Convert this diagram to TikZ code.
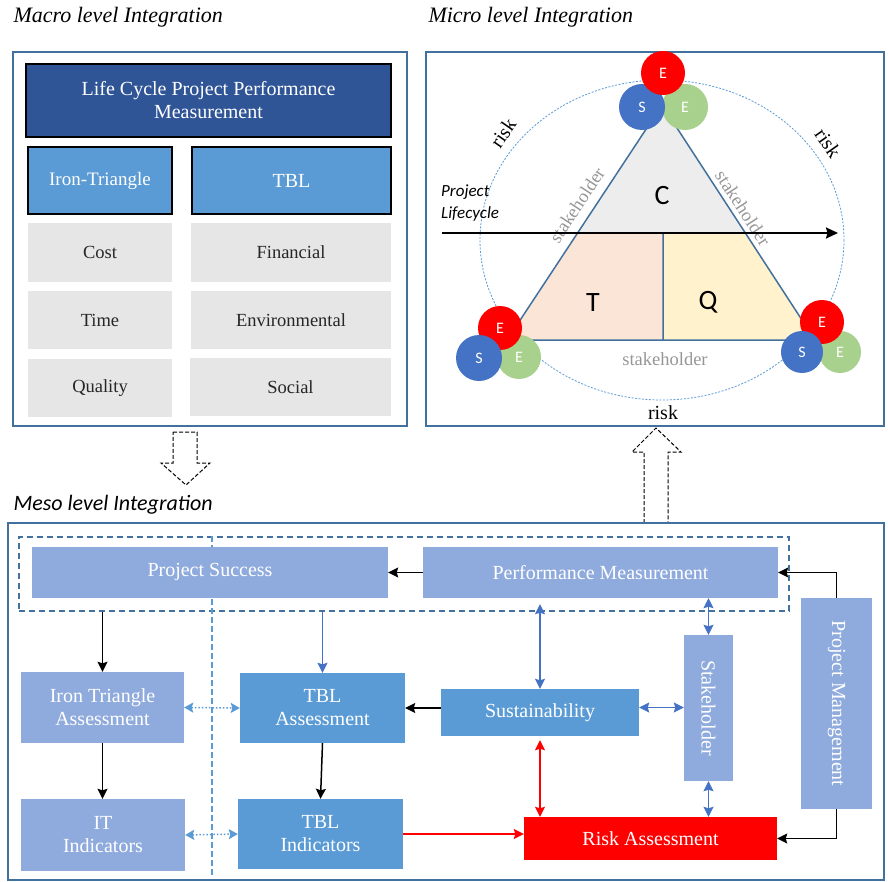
\documentclass[tikz,border=0pt]{standalone}
\usepackage{fontspec}
\usepackage{graphicx}
\setmainfont{Liberation Serif}
\newfontfamily\calibri{Carlito}
\usetikzlibrary{arrows.meta,positioning,calc}

\definecolor{frameblue}{RGB}{65,113,156}
\definecolor{darkblue}{RGB}{47,85,151}
\definecolor{midblue}{RGB}{91,155,213}
\definecolor{lightblue}{RGB}{143,170,220}
\definecolor{arrowblue}{RGB}{68,114,196}
\definecolor{grayfill}{RGB}{230,230,230}
\definecolor{cfill}{RGB}{237,237,237}
\definecolor{tfill}{RGB}{251,229,214}
\definecolor{qfill}{RGB}{255,242,204}
\definecolor{greencirc}{RGB}{169,209,142}
\definecolor{labelgray}{RGB}{150,150,150}

\begin{document}
\begin{tikzpicture}[x=1pt,y=-1pt,
   box/.style={inner sep=0pt, align=center, text=white, font=\fontsize{20}{23}\selectfont},
   lbox/.style={box, fill=lightblue},
   mbox/.style={box, fill=midblue},
   gbox/.style={box, fill=grayfill, text=black!85, font=\fontsize{18.5}{22}\selectfont},
   hbox/.style={box, draw=black, line width=1.5pt},
   panel/.style={draw=frameblue, line width=1.5pt, inner sep=0pt},
   title/.style={anchor=west, font=\fontsize{22}{26}\selectfont\itshape},
   tip/.style={Stealth[length=10pt,width=10pt,inset=1.5pt]},
   arr/.style={-{Stealth[length=10pt,width=10pt,inset=1.5pt]}, line width=1.5pt},
   barr/.style={{Stealth[length=10pt,width=10pt,inset=1.5pt]}-{Stealth[length=10pt,width=10pt,inset=1.5pt]}, line width=1.6pt, draw=arrowblue},
   darr/.style={{Stealth[length=9pt,width=10pt,inset=1.5pt]}-{Stealth[length=9pt,width=10pt,inset=1.5pt]}, line width=1.5pt, draw=midblue, dotted},
   blockarr/.style={draw=black, line width=1pt, dash pattern=on 4pt off 2pt},
   stk/.style={text=labelgray, font=\fontsize{18.5}{22}\selectfont},
   rsk/.style={font=\fontsize{20}{24}\selectfont},
   eco/.style={circle, minimum size=46pt, inner sep=0pt, text=white, font=\calibri\fontsize{16}{18}\selectfont}]

   \useasboundingbox (0,0) rectangle (888,882);

   % macro level
   \node[title] (macrotitle) at (10,17) {Macro level Integration};
   \node[panel, minimum width=394pt, minimum height=374pt] (macro) at (210,239) {};
   \node[hbox, fill=darkblue, minimum width=365pt, minimum height=73pt] (lcpm) at (208.5,100.5) {Life Cycle Project Performance\\Measurement};
   \node[hbox, fill=midblue, minimum width=144pt, minimum height=67pt, font=\fontsize{19}{22}\selectfont] (iron) at (100,180.5) {Iron-Triangle};
   \node[hbox, fill=midblue, minimum width=199pt, minimum height=67pt] (tbl) at (291.5,180.5) {TBL};
   \node[gbox, minimum width=144pt, minimum height=59pt] (cost) at (100,252.5) {Cost};
   \node[gbox, minimum width=200pt, minimum height=59pt] (financial) at (291,252.5) {Financial};
   \node[gbox, minimum width=144pt, minimum height=58pt] (time) at (100,320) {Time};
   \node[gbox, minimum width=200pt, minimum height=58pt] (environmental) at (291,320) {Environmental};
   \node[gbox, minimum width=144pt, minimum height=58pt] (quality) at (100,388) {Quality};
   \node[gbox, minimum width=201pt, minimum height=58pt] (social) at (290.5,387) {Social};

   % micro level
   \node[title] (microtitle) at (425,17) {Micro level Integration};
   \node[panel, minimum width=458pt, minimum height=374pt] (micro) at (655,239) {};
   \draw[midblue, line width=0.8pt, dash pattern=on 2pt off 1.5pt] (662,240) ellipse [x radius=182, y radius=160];
   \coordinate (apex) at (662,105);
   \coordinate (bl) at (507,340);
   \coordinate (br) at (815,340);
   \coordinate (ml) at ($(apex)!0.5447!(bl)$);
   \coordinate (mr) at ($(apex)!0.5447!(br)$);
   \coordinate (mt) at (663,233);
   \coordinate (mb) at (663,340);
   \fill[cfill] (apex) -- (ml) -- (mr) -- cycle;
   \fill[tfill] (ml) -- (mt) -- (mb) -- (bl) -- cycle;
   \fill[qfill] (mt) -- (mr) -- (br) -- (mb) -- cycle;
   \draw[frameblue, line width=1.5pt] (apex) -- (bl) -- (br) -- cycle (mt) -- (mb);
   \node[stk, rotate=56.5] (stkleft) at (577,205) {stakeholder};
   \node[stk, rotate=-57] (stkright) at (743,208) {stakeholder};
   \node[stk] (stkbottom) at (665,359) {stakeholder};
   \node[rsk, rotate=55] (riskleft) at (503,133) {risk};
   \node[rsk, rotate=-55] (riskright) at (828,143) {risk};
   \node[rsk] (riskbottom) at (663,413) {risk};
   \coordinate (lcstart) at (442,233);
   \coordinate (lcend) at (838,233);
   \draw[-{Stealth[length=12pt,width=11pt,inset=1.5pt]}, line width=2pt] (lcstart) -- (lcend);
   \node[anchor=north west, align=left, inner sep=0pt, font=\calibri\itshape\fontsize{17}{22}\selectfont] (lifecycle) at (441,185) {Project\\Lifecycle};
   \node[font=\calibri\fontsize{28}{30}\selectfont] (cc) at (662,196) {C};
   \node[font=\calibri\fontsize{28}{30}\selectfont] (tt) at (593,303) {T};
   \node[font=\calibri\fontsize{28}{30}\selectfont] (qq) at (708,302) {Q};

   \node[eco, fill=greencirc] (etop) at (685,107) {E};
   \node[eco, fill=arrowblue] (stop) at (642,107) {S};
   \node[eco, fill=red, minimum size=44pt] (ftop) at (663,73) {E};
   \node[eco, fill=greencirc, minimum size=44pt] (eleft) at (519,357) {E};
   \node[eco, fill=red, minimum size=44pt] (fleft) at (500,328) {E};
   \node[eco, fill=arrowblue] (sleft) at (479,358) {S};
   \node[eco, fill=greencirc, minimum size=42pt] (eright) at (840,352) {E};
   \node[eco, fill=red, minimum size=44pt] (fright) at (822,322) {E};
   \node[eco, fill=arrowblue, minimum size=42pt] (sright) at (802,352) {S};

   % block arrows between the levels
   \draw[blockarr] (173,432) -- (197,432) -- (197,463) -- (210,463) -- (186,485) -- (161,463) -- (173,463) -- cycle;
   \draw[blockarr] (644,523) -- (644,452) -- (632,452) -- (656,428) -- (681,452) -- (668,452) -- (668,523);

   % meso level
   \node[anchor=west, font=\calibri\itshape\fontsize{22}{26}\selectfont] (mesotitle) at (10,505) {Meso level Integration};
   \node[panel, minimum width=876pt, minimum height=357pt] (meso) at (446,701.5) {};
   \node[draw=frameblue, line width=1.5pt, dash pattern=on 6pt off 4pt, minimum width=770pt, minimum height=74pt] (psgroup) at (404,574) {};
   \draw[midblue, line width=1.5pt, dash pattern=on 6pt off 3pt] (psgroup.north -| 212,0) -- (212,878);

   \node[lbox, minimum width=356pt, minimum height=51pt] (success) at (210,572.5) {Project Success};
   \node[lbox, minimum width=355pt, minimum height=51pt] (perf) at (600.5,572.5) {Performance Measurement};
   \node[lbox, minimum width=163pt, minimum height=71pt] (ita) at (102.5,707.5) {Iron Triangle\\Assessment};
   \node[mbox, minimum width=165pt, minimum height=70pt] (tbla) at (322.5,708) {TBL\\Assessment};
   \node[lbox, minimum width=164pt, minimum height=72pt] (itind) at (103,835) {IT\\Indicators};
   \node[mbox, minimum width=165pt, minimum height=70pt] (tblind) at (320.5,834) {TBL\\Indicators};
   \node[mbox, minimum width=198pt, minimum height=47pt] (sust) at (540,712.5) {Sustainability};
   \node[lbox, minimum width=49pt, minimum height=146pt] (stake) at (708.5,708) {\rotatebox{-90}{Stakeholder}};
   \node[lbox, minimum width=71pt, minimum height=211pt] (pm) at (836.5,703.5) {\rotatebox{-90}{Project Management}};
   \node[box, fill=red, minimum width=253pt, minimum height=43pt] (risk) at (650.5,838.5) {Risk Assessment};

   \draw[arr] (perf.west) -- (success.east);
   \draw[arr] (psgroup.south -| ita.north) -- (ita.north);
   \draw[arr, arrowblue] (psgroup.south -| tbla.north) -- (tbla.north);
   \draw[arr] (ita.south) -- (ita.south |- itind.north);
   \draw[arr] (tbla.south) -- (tblind.north);
   \draw[darr] (ita.east) -- (tbla.west);
   \draw[darr] (itind.east) -- (tblind.west);
   \draw[arr] (sust.west |- tbla.east) -- (tbla.east);
   \draw[barr] ([yshift=-6pt]perf.south -| sust.north) -- (sust.north);
   \draw[barr] (perf.south -| stake.north) -- (stake.north);
   \draw[barr] (sust.east |- ita.east) -- (stake.west |- ita.east);
   \draw[barr, red] ([yshift=-4pt]sust.south) -- (sust.south |- risk.north);
   \draw[barr] (stake.south) -- (stake.south |- risk.north);
   \draw[arr, red] (tblind.east) -- (tblind.east -| risk.west);
   \draw[arr] (pm.north) |- (perf.east);
   \draw[arr] (pm.south) |- (risk.east);

\end{tikzpicture}
\end{document}
